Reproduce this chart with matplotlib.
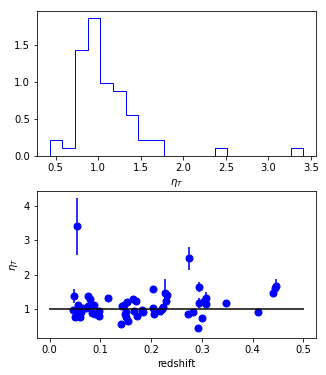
import matplotlib
matplotlib.use("Agg")
import matplotlib.pyplot as plt
import numpy as np

# redshift, eta_T and its error for each cluster
z = [0.046, 0.047, 0.049, 0.054, 0.055, 0.053, 0.057, 0.059, 0.060, 0.064,
     0.072, 0.075, 0.076, 0.080, 0.083, 0.088, 0.090, 0.097, 0.098, 0.114,
     0.140, 0.142, 0.147, 0.150, 0.151, 0.152, 0.154, 0.165, 0.167, 0.171,
     0.172, 0.182, 0.184, 0.203, 0.203, 0.206, 0.217, 0.221, 0.224, 0.228,
     0.230, 0.232, 0.272, 0.274, 0.283, 0.293, 0.295, 0.295, 0.300, 0.304,
     0.308, 0.308, 0.348, 0.411, 0.441, 0.444, 0.446, 0.050, 0.062, 0.052,
     0.148]
eta = [0.97, 1.38, 0.77, 3.41, 1.12, 0.87, 0.94, 0.76, 1.00, 1.02,
       1.02, 1.07, 1.38, 1.30, 0.87, 1.12, 0.85, 0.94, 0.79, 1.32,
       0.56, 1.07, 1.12, 0.77, 0.90, 1.20, 0.65, 1.30, 0.94, 1.24,
       0.80, 0.97, 0.90, 1.59, 1.02, 0.84, 0.94, 1.00, 1.04, 1.46,
       1.24, 1.39, 0.85, 2.48, 0.92, 0.43, 1.64, 1.17, 0.74, 1.22,
       1.32, 1.15, 1.17, 0.92, 1.47, 1.60, 1.68, 0.95, 0.92, 0.80,
       0.85]
eta_err = [0.06, 0.20, 0.05, 0.83, 0.07, 0.05, 0.05, 0.05, 0.06, 0.06,
           0.06, 0.06, 0.08, 0.08, 0.05, 0.06, 0.05, 0.05, 0.05, 0.08,
           0.05, 0.06, 0.06, 0.05, 0.05, 0.07, 0.05, 0.08, 0.05, 0.07,
           0.05, 0.06, 0.05, 0.09, 0.06, 0.05, 0.05, 0.06, 0.06, 0.40,
           0.07, 0.08, 0.05, 0.33, 0.05, 0.05, 0.15, 0.16, 0.05, 0.07,
           0.17, 0.07, 0.07, 0.05, 0.08, 0.09, 0.20, 0.05, 0.05, 0.05,
           0.05]

fig = plt.figure(figsize=(326 / 72, 375 / 72), dpi=72)
ax1 = fig.add_axes([0.1135, 0.584, 0.856, 0.387])
ax2 = fig.add_axes([0.1135, 0.099, 0.856, 0.392])

ax1.hist(eta, bins=20, density=True, histtype='step', color='b')
ax1.set_xlabel(r'$\eta_T$')

ax2.errorbar(z, eta, yerr=eta_err, fmt='bo', markersize=7,
             ecolor=(0.2, 0.2, 1.0), elinewidth=2, capsize=0)
ax2.plot([0, 0.5], [1, 1], color='k', lw=2, alpha=0.75, zorder=5)
ax2.set_ylim(0.15, 4.45)
ax2.set_yticks([1, 2, 3, 4])
ax2.set_xlabel('redshift')
ax2.set_ylabel(r'$\eta_T$')

plt.savefig("out.png", dpi=72)
